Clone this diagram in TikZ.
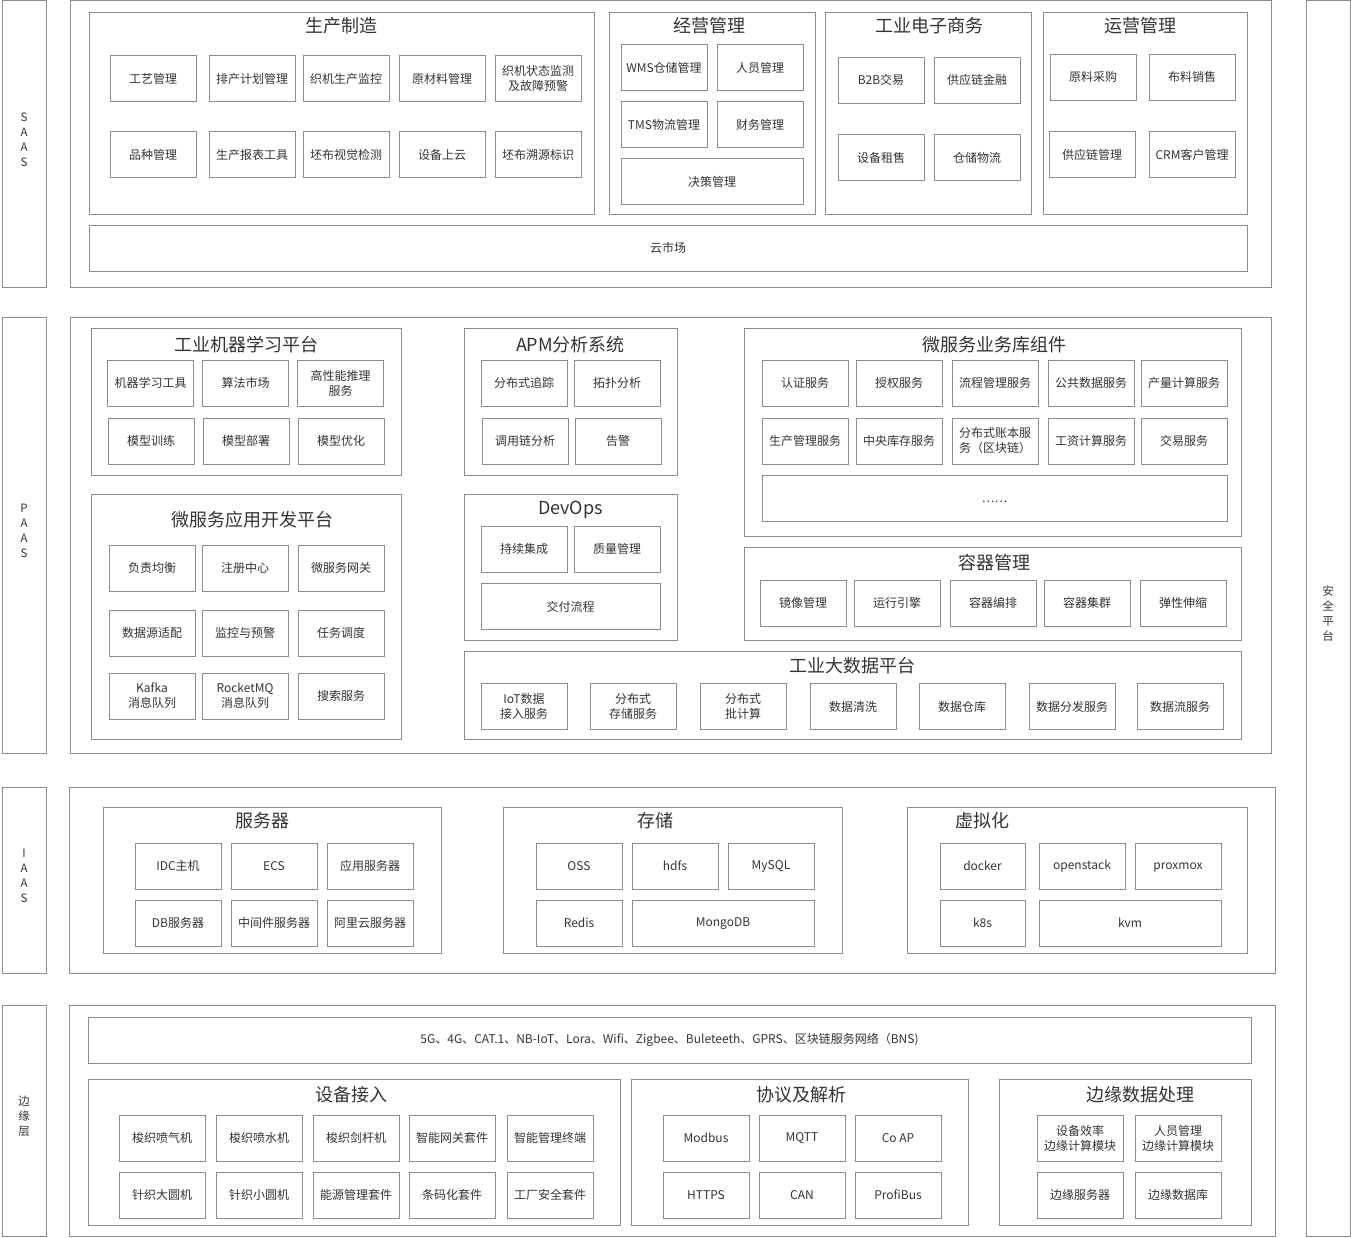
\documentclass[tikz,border=0pt]{standalone}
\usepackage{fontspec}
\setmainfont{Noto Sans CJK SC}
\usetikzlibrary{fit}
\definecolor{linegray}{HTML}{8C8C8C}
\definecolor{textgray}{HTML}{333333}
\tikzset{
  layer/.style={draw=linegray, line width=0.8pt, inner sep=0pt},
  panel/.style={draw=linegray, line width=0.8pt, inner sep=0pt},
  sidebar/.style={draw=linegray, line width=0.8pt, inner sep=0pt, align=center,
    text=textgray, font=\fontsize{11.5}{15}\selectfont},
  item/.style={draw=linegray, line width=0.7pt, minimum width=86pt, minimum height=46pt,
    inner sep=1pt, align=center, text=textgray, font=\fontsize{12}{15}\selectfont,
    execute at begin node={\vphantom{字}}},
  title/.style={text=textgray, inner sep=0pt, font=\fontsize{18}{20}\selectfont},
}
\begin{document}
\begin{tikzpicture}[x=1pt,y=-1pt]
\useasboundingbox (0,0) rectangle (1351,1237);

% side labels
\node[sidebar, fit={(2,0.5) (46,287)}] (saas) {S\\A\\A\\S};
\node[sidebar, fit={(2,317) (46,753)}] (paas) {P\\A\\A\\S};
\node[sidebar, fit={(2,787) (46,973)}] (iaas) {I\\A\\A\\S};
\node[sidebar, fit={(2,1005) (46,1236.5)}] (edge) {边\\缘\\层};
\node[sidebar, fit={(1306,0.5) (1350,1236.5)}] (safe) {安\\全\\平\\台};

% SAAS
\node[layer, fit={(70,0.5) (1271,287)}] (saasL) {};
\node[panel, fit={(89,12) (594,214)}] (mfg) {};
\node[title] (mfgT) at (341.5,26) {生产制造};
\node[item] (mfg1) at (153,78.5) {工艺管理};
\node[item] (mfg2) at (252,78.5) {排产计划管理};
\node[item] (mfg3) at (346,78.5) {织机生产监控};
\node[item] (mfg4) at (442,78.5) {原材料管理};
\node[item] (mfg5) at (538,78.5) {织机状态监测\\及故障预警};
\node[item] (mfg6) at (153,154.5) {品种管理};
\node[item] (mfg7) at (252,154.5) {生产报表工具};
\node[item] (mfg8) at (346,154.5) {坯布视觉检测};
\node[item] (mfg9) at (442,154.5) {设备上云};
\node[item] (mfg10) at (538,154.5) {坯布溯源标识};

\node[panel, fit={(609,12) (815,214)}] (biz) {};
\node[title] (bizT) at (709,26) {经营管理};
\node[item] (biz1) at (664,67.5) {WMS仓储管理};
\node[item] (biz2) at (760,67.5) {人员管理};
\node[item] (biz3) at (664,124.5) {TMS物流管理};
\node[item] (biz4) at (760,124.5) {财务管理};
\node[item, minimum width=182pt] (biz5) at (712,181.5) {决策管理};

\node[panel, fit={(825,12) (1031,214)}] (ecom) {};
\node[title] (ecomT) at (929,26) {工业电子商务};
\node[item] (ecom1) at (881,80) {B2B交易};
\node[item] (ecom2) at (977,80) {供应链金融};
\node[item] (ecom3) at (881,157.5) {设备租售};
\node[item] (ecom4) at (977,157.5) {仓储物流};

\node[panel, fit={(1043,12) (1247,214)}] (ops) {};
\node[title] (opsT) at (1140,26) {运营管理};
\node[item] (ops1) at (1093,77) {原料采购};
\node[item] (ops2) at (1192,77) {布料销售};
\node[item] (ops3) at (1092,154.5) {供应链管理};
\node[item] (ops4) at (1192,154.5) {CRM客户管理};

\node[item, minimum width=1158pt] (cloud) at (668,248) {云市场};

% PAAS
\node[layer, fit={(70,317) (1271,753)}] (paasL) {};
\node[panel, fit={(91,328) (401,475)}] (ml) {};
\node[title] (mlT) at (246,345) {工业机器学习平台};
\node[item] (ml1) at (150.5,383) {机器学习工具};
\node[item] (ml2) at (245.5,383) {算法市场};
\node[item] (ml3) at (340.5,383) {高性能推理\\服务};
\node[item] (ml4) at (151,441) {模型训练};
\node[item] (ml5) at (246,441) {模型部署};
\node[item] (ml6) at (341,441) {模型优化};

\node[panel, fit={(91,494) (401,739)}] (msd) {};
\node[title] (msdT) at (252,520) {微服务应用开发平台};
\node[item] (msd1) at (152,568) {负责均衡};
\node[item] (msd2) at (245,568) {注册中心};
\node[item] (msd3) at (341,568) {微服务网关};
\node[item] (msd4) at (152,633) {数据源适配};
\node[item] (msd5) at (245,633) {监控与预警};
\node[item] (msd6) at (341,633) {任务调度};
\node[item] (msd7) at (152,696) {Kafka\\消息队列};
\node[item] (msd8) at (245,696) {RocketMQ\\消息队列};
\node[item] (msd9) at (341,696) {搜索服务};

\node[panel, fit={(464,328) (677,475)}] (apm) {};
\node[title] (apmT) at (570.5,345) {APM分析系统};
\node[item] (apm1) at (524,383) {分布式追踪};
\node[item] (apm2) at (617,383) {拓扑分析};
\node[item] (apm3) at (525,441) {调用链分析};
\node[item] (apm4) at (618,441) {告警};

\node[panel, fit={(464,494) (677,640)}] (devops) {};
\node[title] (devopsT) at (570.5,510) {DevOps};
\node[item] (ci) at (524,549) {持续集成};
\node[item] (qa) at (617,549) {质量管理};
\node[item, minimum width=179pt] (cd) at (570.5,606.5) {交付流程};

\node[panel, fit={(744,328) (1241,536)}] (lib) {};
\node[title] (libT) at (994,345) {微服务业务库组件};
\node[item] (lib1) at (805,383) {认证服务};
\node[item] (lib2) at (899,383) {授权服务};
\node[item] (lib3) at (995,383) {流程管理服务};
\node[item] (lib4) at (1091,383) {公共数据服务};
\node[item] (lib5) at (1184,383) {产量计算服务};
\node[item] (lib6) at (805,441) {生产管理服务};
\node[item] (lib7) at (899,441) {中央库存服务};
\node[item] (lib8) at (995,441) {分布式账本服\\务（区块链）};
\node[item] (lib9) at (1091,441) {工资计算服务};
\node[item] (lib10) at (1184,441) {交易服务};
\node[item, minimum width=465pt] (lib11) at (994.5,498) {……};

\node[panel, fit={(744,547) (1241,640)}] (ctr) {};
\node[title] (ctrT) at (994,563) {容器管理};
\node[item] (ctr1) at (803,603) {镜像管理};
\node[item] (ctr2) at (897,603) {运行引擎};
\node[item] (ctr3) at (993,603) {容器编排};
\node[item] (ctr4) at (1087,603) {容器集群};
\node[item] (ctr5) at (1183,603) {弹性伸缩};

\node[panel, fit={(464,651) (1241,739)}] (data) {};
\node[title] (dataT) at (852.5,666) {工业大数据平台};
\node[item] (data1) at (524,706.5) {IoT数据\\接入服务};
\node[item] (data2) at (633,706.5) {分布式\\存储服务};
\node[item] (data3) at (743,706.5) {分布式\\批计算};
\node[item] (data4) at (853,706.5) {数据清洗};
\node[item] (data5) at (962,706.5) {数据仓库};
\node[item] (data6) at (1072,706.5) {数据分发服务};
\node[item] (data7) at (1180,706.5) {数据流服务};

% IAAS
\node[layer, fit={(69,787) (1275,973)}] (iaasL) {};
\node[panel, fit={(103,807) (441,953)}] (srv) {};
\node[title] (srvT) at (262,821) {服务器};
\node[item] (srv1) at (178,866) {IDC主机};
\node[item] (srv2) at (274,866) {ECS};
\node[item] (srv3) at (370,866) {应用服务器};
\node[item] (srv4) at (178,923) {DB服务器};
\node[item] (srv5) at (274,923) {中间件服务器};
\node[item] (srv6) at (370,923) {阿里云服务器};

\node[panel, fit={(503,807) (842,953)}] (sto) {};
\node[title] (stoT) at (655,821) {存储};
\node[item] (sto1) at (579,866) {OSS};
\node[item] (sto2) at (675,866) {hdfs};
\node[item] (sto3) at (771,866) {MySQL};
\node[item] (sto4) at (579,923) {Redis};
\node[item, minimum width=182pt] (sto5) at (723,923) {MongoDB};

\node[panel, fit={(907,807) (1247,953)}] (vir) {};
\node[title] (virT) at (982,821) {虚拟化};
\node[item, minimum width=85pt] (vir1) at (982.5,866) {docker};
\node[item] (vir2) at (1082,866) {openstack};
\node[item] (vir3) at (1178,866) {proxmox};
\node[item, minimum width=85pt] (vir4) at (982.5,923) {k8s};
\node[item, minimum width=182pt] (vir5) at (1130,923) {kvm};

% edge layer
\node[layer, fit={(69,1005) (1275,1236.5)}] (edgeL) {};
\node[item, minimum width=1163pt, font=\fontsize{12}{14}\selectfont] (net) at (669.5,1040)
  {5G、4G、CAT.1、NB-IoT、Lora、Wifi、Zigbee、Buleteeth、GPRS、区块链服务网络（BNS)};

\node[panel, fit={(88,1079) (620,1225)}] (acc) {};
\node[title] (accT) at (351,1095) {设备接入};
\node[item] (acc1) at (162,1138) {梭织喷气机};
\node[item] (acc2) at (259,1138) {梭织喷水机};
\node[item] (acc3) at (356,1138) {梭织剑杆机};
\node[item] (acc4) at (452,1138) {智能网关套件};
\node[item] (acc5) at (550,1138) {智能管理终端};
\node[item] (acc6) at (162,1195) {针织大圆机};
\node[item] (acc7) at (259,1195) {针织小圆机};
\node[item] (acc8) at (356,1195) {能源管理套件};
\node[item] (acc9) at (452,1195) {条码化套件};
\node[item] (acc10) at (550,1195) {工厂安全套件};

\node[panel, fit={(631,1079) (968,1225)}] (pro) {};
\node[title] (proT) at (801,1095) {协议及解析};
\node[item] (pro1) at (706,1138) {Modbus};
\node[item] (pro2) at (802,1138) {MQTT};
\node[item] (pro3) at (898,1138) {Co AP};
\node[item] (pro4) at (706,1195) {HTTPS};
\node[item] (pro5) at (802,1195) {CAN};
\node[item] (pro6) at (898,1195) {ProfiBus};

\node[panel, fit={(999,1079) (1251,1225)}] (edp) {};
\node[title] (edpT) at (1140,1095) {边缘数据处理};
\node[item] (edp1) at (1080,1138) {设备效率\\边缘计算模块};
\node[item] (edp2) at (1178,1138) {人员管理\\边缘计算模块};
\node[item] (edp3) at (1080,1195) {边缘服务器};
\node[item] (edp4) at (1178,1195) {边缘数据库};
\end{tikzpicture}
\end{document}
